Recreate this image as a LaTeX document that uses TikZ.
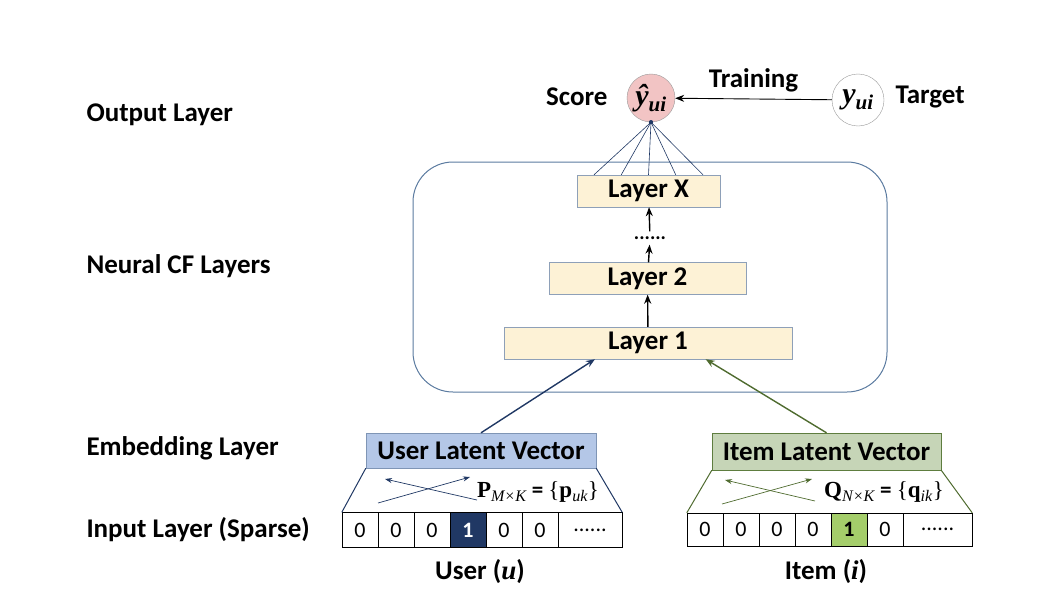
\documentclass[tikz,border=0pt]{standalone}
\usepackage{fontspec}
\setmainfont{Carlito}
\newfontfamily\tnr{Liberation Serif}
\usetikzlibrary{calc,positioning,arrows.meta}
\tikzset{>={Stealth[length=9pt,width=7pt]}}
\definecolor{scorepink}{HTML}{F2C4C4}
\definecolor{circline}{HTML}{9A9A9A}
\definecolor{layerfill}{HTML}{FDF2D6}
\definecolor{layerline}{HTML}{8EA0B8}
\definecolor{cfline}{HTML}{5B7BA0}
\definecolor{userfill}{HTML}{B4C7E7}
\definecolor{userline}{HTML}{7F95B5}
\definecolor{itemfill}{HTML}{C6D5B7}
\definecolor{itemline}{HTML}{5E7D3F}
\definecolor{navy}{HTML}{203864}
\definecolor{leaf}{HTML}{4F6B2F}
\definecolor{onegreen}{HTML}{A4CD6A}

\tikzset{
  lbl/.style={font=\fontsize{27}{31}\selectfont\bfseries},
  side/.style={lbl, anchor=west},
  layer/.style={draw=layerline, fill=layerfill, lbl, minimum height=32, inner sep=0},
  latent/.style={lbl, minimum height=35, inner sep=0},
  formula/.style={font=\fontsize{23}{27}\selectfont\bfseries},
  cell/.style={draw=black, fill=white, minimum width=36, minimum height=35, inner sep=0,
    font=\fontsize{22}{25}\selectfont},
  flow/.style={->, line width=1.4pt, black},
}
\newcommand{\ysub}[1]{\textsubscript{\mdseries\itshape #1}}

\begin{document}
\begin{tikzpicture}[x=1pt,y=-1pt]
    \useasboundingbox (0,0) rectangle (1056,602);

    % layer names on the left
    \node[side] (outlbl) at (83,115) {Output Layer};
    \node[side] (ncflbl) at (83,266) {Neural CF Layers};
    \node[side] (emblbl) at (83,448) {Embedding Layer};
    \node[side] (inplbl) at (83,530) {Input Layer (Sparse)};

    % output
    \node[circle, draw=circline, fill=scorepink, minimum size=48, inner sep=0] (score) at (651,98)
      {\tnr\fontsize{30}{32}\selectfont\bfseries\itshape ŷ\ysub{\bfseries ui}};
    \node[circle, draw=circline, fill=white, minimum size=52, inner sep=0] (target) at (858,100)
      {\tnr\fontsize{30}{32}\selectfont\bfseries\itshape y\ysub{\bfseries ui}};
    \node[lbl, anchor=east] (scorelbl) at (611,97) {Score};
    \node[lbl, anchor=west] (targetlbl) at (892,97) {Target};
    \draw[->, line width=0.9pt] (target) -- (score) node[lbl, midway, above=3pt] (trainlbl) {Training};

    % neural CF layers
    \node[draw=cfline, line width=1pt, rounded corners=40, minimum width=474, minimum height=230] (cfbox) at (650,277) {};
    \node[layer, minimum width=143] (layerX) at (648.5,191) {Layer X};
    \node[font=\fontsize{20}{22}\selectfont\bfseries, inner xsep=0, inner ysep=5] (dots) at (650,238) {......};
    \node[layer, minimum width=197] (layer2) at (647.5,278.5) {Layer 2};
    \node[layer, minimum width=288] (layer1) at (648,343) {Layer 1};
    \draw[flow] (layer1) -- (layer2);
    \draw[flow] (layer2) -- (dots);
    \draw[flow] (dots) -- (layerX);

    % fan into the score
    \foreach \f in {0.12,0.31,0.5,0.69,0.88}
      \draw[navy, line width=0.6pt] (score.south) -- ($(layerX.north west)!\f!(layerX.north east)$);
    \fill[navy] (score.south) circle (2.2);

    % embedding layer
    \node[latent, draw=userline, fill=userfill, minimum width=230] (ulv) at (481,450.5) {User Latent Vector};
    \node[latent, draw=itemline, fill=itemfill, minimum width=229, minimum height=37] (ilv) at (826.5,451.5) {Item Latent Vector};
    \draw[->, navy, line width=1.4pt] (ulv.north) -- ($(layer1.south west)!0.316!(layer1.south east)$);
    \draw[->, leaf, line width=1.4pt] (ilv.north) -- ($(layer1.south west)!0.70!(layer1.south east)$);

    % user input
    \foreach \i/\v in {1/0,2/0,3/0,5/0,6/0}
      \node[cell] (ucell\i) at ({342+36*(\i-1)+18},530) {\v};
    \node[cell, fill=navy, text=white, font=\fontsize{22}{25}\selectfont\bfseries] (ucell4) at (468,530) {1};
    \node[cell, minimum width=64] (ucell7) at (590,530) {......};
    \draw[navy, line width=1pt] (ulv.south west) -- (ucell1.north west);
    \draw[navy, line width=1pt] (ulv.south east) -- (ucell7.north east);
    \coordinate (ua) at (378,503);
    \coordinate (ub) at (470,477);
    \coordinate (uc) at (477,500);
    \coordinate (ud) at (385,479);
    \draw[navy, ->, line width=0.7pt, >={Stealth[length=7pt,width=5pt]}] (ua) -- (ub);
    \draw[navy, ->, line width=0.7pt, >={Stealth[length=7pt,width=5pt]}] (uc) -- (ud);
    \node[formula] (pmat) at (538,492)
      {{\tnr\textbf{P}\ysub{M×K}} = {\tnr\mdseries\{\textbf{p}\ysub{uk}\}}};
    \node[lbl] (userlbl) at (480,572) {User ({\tnr\itshape u})};

    % item input
    \foreach \i/\v in {1/0,2/0,3/0,4/0,6/0}
      \node[cell, minimum height=33] (icell\i) at ({687+36*(\i-1)+18},529.5) {\v};
    \node[cell, minimum height=33, fill=onegreen, font=\fontsize{22}{25}\selectfont\bfseries] (icell5) at (849,529.5) {1};
    \node[cell, minimum height=33, minimum width=69] (icell7) at (937.5,529.5) {......};
    \draw[leaf, line width=1pt] (ilv.south west) -- (icell1.north west);
    \draw[leaf, line width=1pt] (ilv.south east) -- (icell7.north east);
    \coordinate (ia) at (722,504);
    \coordinate (ib) at (812,479);
    \coordinate (ic) at (815,501);
    \coordinate (id) at (725,480);
    \draw[leaf, ->, line width=0.7pt, >={Stealth[length=7pt,width=5pt]}] (ia) -- (ib);
    \draw[leaf, ->, line width=0.7pt, >={Stealth[length=7pt,width=5pt]}] (ic) -- (id);
    \node[formula] (qmat) at (884,492)
      {{\tnr\textbf{Q}\ysub{N×K}} = {\tnr\mdseries\{\textbf{q}\ysub{ik}\}}};
    \node[lbl] (itemlbl) at (826,572) {Item ({\tnr\itshape i})};
\end{tikzpicture}
\end{document}
